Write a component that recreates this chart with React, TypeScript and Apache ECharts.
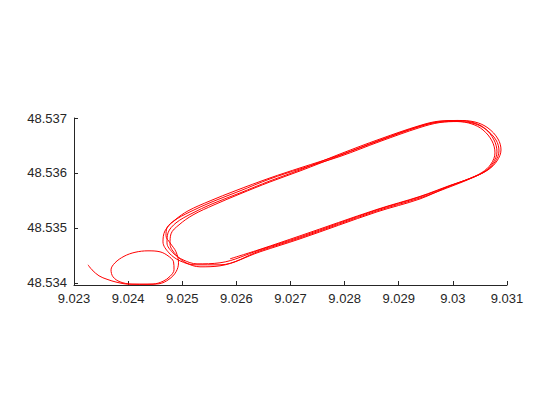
import React, { useEffect, useRef } from "react";
import * as echarts from "echarts";

// GPS track: [longitude, latitude]
const entry: number[][] = [
  [9.023259, 48.534327], [9.023333, 48.534236], [9.023462, 48.534127], [9.02361, 48.534064],
  [9.023794, 48.534009], [9.024016, 48.533975], [9.024238, 48.533975], [9.02446, 48.533978],
  [9.024644, 48.534027], [9.024774, 48.534118], [9.024848, 48.534236], [9.024839, 48.534382],
  [9.024737, 48.534491], [9.024589, 48.534564], [9.024367, 48.534582], [9.024127, 48.534555],
  [9.023924, 48.534482], [9.023758, 48.534364], [9.023684, 48.534236], [9.023721, 48.534109],
  [9.02385, 48.534018], [9.024072, 48.533975], [9.024349, 48.533972], [9.02457, 48.533982],
  [9.024755, 48.534064], [9.024885, 48.5342], [9.024931, 48.534364], [9.024885, 48.534564],
  [9.024774, 48.534727], [9.0247, 48.534855], [9.024718, 48.535], [9.024866, 48.535145],
  [9.025106, 48.535309], [9.025513, 48.535491], [9.025975, 48.535673], [9.026621, 48.535909],
  [9.027176, 48.536091],
];

const lap1: number[][] = [
  [9.027915, 48.536327], [9.028654, 48.5366], [9.029393, 48.536855], [9.029762, 48.536936],
  [9.030095, 48.536955], [9.030409, 48.536927], [9.030649, 48.536818], [9.030834, 48.536618],
  [9.030889, 48.536418], [9.030815, 48.536218], [9.030649, 48.536055], [9.030353, 48.535909],
  [9.030039, 48.535782], [9.029393, 48.535545], [9.028598, 48.535309], [9.027176, 48.534818],
  [9.026437, 48.534582], [9.025697, 48.534327], [9.025236, 48.534327], [9.024958, 48.5344],
  [9.024755, 48.534545], [9.024644, 48.534745], [9.024681, 48.534945], [9.024848, 48.535127],
  [9.025143, 48.535291], [9.02555, 48.535473], [9.026067, 48.535673], [9.026621, 48.535891],
  [9.027176, 48.536073],
];

const lap2: number[][] = [
  [9.027915, 48.5363], [9.028654, 48.536573], [9.029393, 48.536827], [9.029762, 48.536918],
  [9.030095, 48.536936], [9.03039, 48.5369], [9.030612, 48.536791], [9.030797, 48.5366],
  [9.030852, 48.5364], [9.030778, 48.5362], [9.030612, 48.536036], [9.030316, 48.5359],
  [9.030039, 48.5358], [9.029393, 48.535564], [9.028598, 48.535327], [9.027176, 48.534836],
  [9.026437, 48.5346], [9.025697, 48.534364], [9.025273, 48.534345], [9.025014, 48.534418],
  [9.024829, 48.534545], [9.024718, 48.534727], [9.024737, 48.534909], [9.024885, 48.535091],
  [9.025162, 48.535255], [9.02555, 48.535436], [9.026067, 48.535636], [9.026621, 48.535855],
  [9.027176, 48.536055],
];

const lap3: number[][] = [
  [9.027915, 48.536345], [9.028654, 48.536618], [9.029393, 48.536864], [9.029762, 48.536945],
  [9.030095, 48.536955], [9.030372, 48.536918], [9.030594, 48.536809], [9.03076, 48.5366],
  [9.030815, 48.536382], [9.030741, 48.536182], [9.030575, 48.536018], [9.03028, 48.535882],
  [9.029947, 48.535764], [9.029393, 48.535527], [9.028598, 48.535291], [9.027176, 48.5348],
  [9.026437, 48.534564], [9.025697, 48.534309], [9.025328, 48.534291], [9.025069, 48.534364],
  [9.024885, 48.534509], [9.024774, 48.534709], [9.024792, 48.534891], [9.02494, 48.535055],
  [9.025199, 48.535236], [9.025587, 48.535418], [9.026067, 48.535618], [9.026621, 48.535836],
  [9.027176, 48.536036],
];

const lap4: number[][] = [
  [9.027915, 48.536318], [9.028654, 48.536591], [9.029393, 48.536845], [9.029762, 48.536927],
  [9.030076, 48.536936], [9.030353, 48.536891], [9.030557, 48.536782], [9.030723, 48.536582],
  [9.030778, 48.536364], [9.030705, 48.536164], [9.030538, 48.536009], [9.030243, 48.535873],
  [9.029947, 48.535773], [9.029393, 48.535573], [9.028598, 48.535336], [9.027176, 48.534855],
  [9.026437, 48.534609], [9.025882, 48.534436],
];

const xTicks = [9.023, 9.024, 9.025, 9.026, 9.027, 9.028, 9.029, 9.03, 9.031];
const yTicks = [48.534, 48.535, 48.536, 48.537];

const fmt = (v: number) => String(Number(Number(v).toFixed(3)));

export default function App() {
  const ref = useRef<HTMLDivElement>(null);
  useEffect(() => {
    if (!ref.current) return;
    const chart = echarts.init(ref.current, undefined, { renderer: "svg" });
    const track = [...entry, ...lap1, ...lap2, ...lap3, ...lap4];
    const axisCommon = {
      axisLine: { show: true, onZero: false, lineStyle: { color: "#262626", width: 1 } },
      axisTick: { show: true, inside: true, length: 4, lineStyle: { color: "#262626" } },
      splitLine: { show: false },
    };
    const labelStyle = {
      formatter: fmt,
      color: "#262626",
      fontSize: 13,
      fontFamily: "Liberation Sans, Arial, sans-serif",
      margin: 7,
    };
    chart.setOption({
      animation: false,
      backgroundColor: "#ffffff",
      grid: { left: 74, right: 53, top: 118, bottom: 135 },
      xAxis: {
        type: "value",
        min: xTicks[0],
        max: xTicks[xTicks.length - 1],
        ...axisCommon,
        axisTick: { ...axisCommon.axisTick, customValues: xTicks },
        axisLabel: { ...labelStyle, customValues: xTicks },
      },
      yAxis: {
        type: "value",
        min: 48.53396,
        max: yTicks[yTicks.length - 1],
        ...axisCommon,
        axisTick: { ...axisCommon.axisTick, customValues: yTicks },
        axisLabel: { ...labelStyle, customValues: yTicks },
      },
      series: [
        {
          type: "line",
          data: track,
          showSymbol: false,
          smooth: 0.35,
          clip: false,
          lineStyle: { color: "#ff0000", width: 1 },
        },
      ],
    });
    return () => chart.dispose();
  }, []);
  return (
    <div
      ref={ref}
      style={{ position: "absolute", left: 0, top: 0, width: 560, height: 420 }}
    />
  );
}
